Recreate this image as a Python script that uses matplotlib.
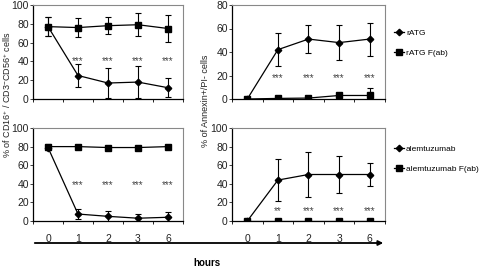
import matplotlib
matplotlib.use("Agg")
import matplotlib.pyplot as plt
from matplotlib.lines import Line2D

plt.rcParams['font.family'] = ['Liberation Sans', 'DejaVu Sans']
plt.rcParams['mathtext.fontset'] = 'custom'
plt.rcParams['mathtext.rm'] = 'Liberation Sans'
plt.rcParams['mathtext.it'] = 'Liberation Sans'

x_labels = ['0', '1', '2', '3', '6']

ratg_viable = [77, 25, 17, 18, 12]
ratg_viable_err = [10, 12, 16, 17, 10]
ratgfab_viable = [77, 76, 78, 79, 75]
ratgfab_viable_err = [10, 10, 9, 12, 14]

ratg_annexin = [0, 42, 51, 48, 51]
ratg_annexin_err = [0, 14, 12, 15, 14]
ratgfab_annexin = [0, 0.5, 0.8, 3, 3]
ratgfab_annexin_err = [0, 1, 0.5, 2, 6]

alem_viable = [79, 7.5, 5, 3, 4]
alem_viable_err = [3, 5, 6, 5, 5.5]
alemfab_viable = [80, 80, 79, 79, 80]
alemfab_viable_err = [3, 2, 1, 1, 1]

alem_annexin = [0, 44, 50, 50, 50]
alem_annexin_err = [0, 23, 24, 20, 12]
alemfab_annexin = [0.5, 0.5, 0.5, 0.5, 0.5]
alemfab_annexin_err = [0, 0, 0, 0, 0]

stars_tl = ['', '***', '***', '***', '***']
stars_tr = ['', '***', '***', '***', '***']
stars_bl = ['', '***', '***', '***', '***']
stars_br = ['', '**', '***', '***', '***']

W, H = 481, 268
fig = plt.figure(figsize=(W / 100, H / 100), dpi=100)


def rect(x0, y0, x1, y1):
    return [x0 / W, 1 - y1 / H, (x1 - x0) / W, (y1 - y0) / H]


def panel(r, ymax, s1, e1, s2, e2, stars, star_y, show_xlabels):
    ax = fig.add_axes(rect(*r))
    xs = list(range(len(x_labels)))
    ax.errorbar(xs, s1, yerr=e1, color='black', marker='D', markersize=3.3,
                lw=0.9, elinewidth=0.8, capsize=2.5, capthick=0.8)
    ax.errorbar(xs, s2, yerr=e2, color='black', marker='s', markersize=4,
                lw=0.9, elinewidth=0.8, capsize=2.5, capthick=0.8)
    for xi, st in zip(xs, stars):
        if st:
            ax.text(xi, star_y, st, ha='center', va='center', fontsize=7,
                    color='#444444')
    ax.set_xlim(-0.5, len(x_labels) - 0.5)
    ax.set_ylim(0, ymax)
    ax.set_yticks(range(0, ymax + 1, 20))
    ax.tick_params(axis='y', direction='out', length=2, width=0.6,
                   labelsize=7.5, pad=1, colors='#222222')
    ax.set_xticks([i - 0.5 for i in range(len(x_labels) + 1)])
    ax.set_xticklabels([])
    ax.tick_params(axis='x', which='major', direction='out', length=2.5,
                   width=0.6)
    ax.set_xticks(xs, minor=True)
    if show_xlabels:
        ax.set_xticklabels(x_labels, minor=True)
    ax.tick_params(axis='x', which='minor', length=0, labelsize=7.5, pad=9,
                   colors='#222222')
    for sp in ['top', 'right']:
        ax.spines[sp].set_color('#888888')
        ax.spines[sp].set_linewidth(0.8)
    for sp in ['left', 'bottom']:
        ax.spines[sp].set_color('black')
        ax.spines[sp].set_linewidth(0.9)
    return ax


panel((33, 5, 183, 99), 100, ratg_viable, ratg_viable_err,
      ratgfab_viable, ratgfab_viable_err, stars_tl, 40, False)
panel((232, 5, 385, 99), 80, ratg_annexin, ratg_annexin_err,
      ratgfab_annexin, ratgfab_annexin_err, stars_tr, 18, False)
panel((33, 128, 183, 221), 100, alem_viable, alem_viable_err,
      alemfab_viable, alemfab_viable_err, stars_bl, 39, True)
panel((232, 128, 385, 221), 100, alem_annexin, alem_annexin_err,
      alemfab_annexin, alemfab_annexin_err, stars_br, 11, True)

# legends
h_d = Line2D([], [], color='black', marker='D', markersize=3.3, lw=0.9)
h_s = Line2D([], [], color='black', marker='s', markersize=4, lw=0.9)
fig.legend([h_d, h_s], ['rATG', 'rATG F(ab)'], loc='upper left',
           bbox_to_anchor=(394 / W, 1 - 29 / H), frameon=False, fontsize=6,
           handlelength=1.2, handletextpad=0.25, labelspacing=1.5,
           borderpad=0, borderaxespad=0)
fig.legend([h_d, h_s], ['alemtuzumab', 'alemtuzumab F(ab)'], loc='upper left',
           bbox_to_anchor=(394 / W, 1 - 145 / H), frameon=False, fontsize=6,
           handlelength=1.2, handletextpad=0.25, labelspacing=1.5,
           borderpad=0, borderaxespad=0)

# y labels
fig.text(7 / W, 1 - 95 / H, '% of CD16$^{+}$ / CD3$^{-}$CD56$^{+}$ cells',
         rotation=90, ha='center', va='center', fontsize=6.5, color='#222222')
fig.text(205 / W, 1 - 101 / H, '% of Annexin+/PI- cells',
         rotation=90, ha='center', va='center', fontsize=6.5, color='#222222')

# time arrow
fig.add_artist(matplotlib.patches.FancyArrowPatch(
    (32 / W, 1 - 243 / H), (386 / W, 1 - 243 / H), transform=fig.transFigure,
    arrowstyle='-|>', mutation_scale=7, color='black', lw=1.3))
fig.text(207 / W, 1 - 263 / H, 'hours', ha='center', va='center',
         fontsize=7, fontweight='bold')

fig.savefig('out.png', dpi=100)
